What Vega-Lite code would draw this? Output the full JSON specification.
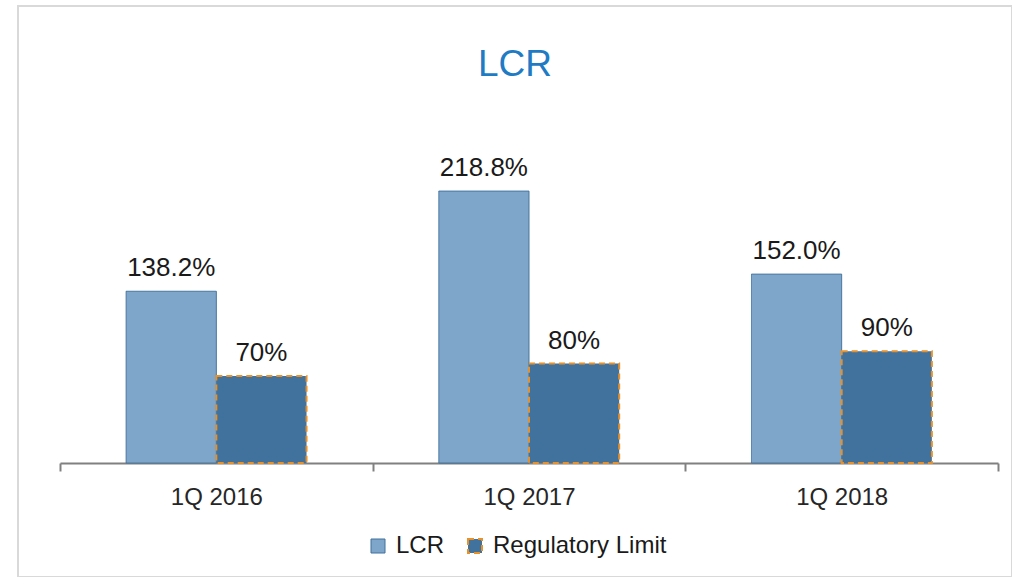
{
  "$schema": "https://vega.github.io/schema/vega-lite/v6.json",
  "width": 994,
  "height": 571,
  "autosize": {"type": "none"},
  "padding": {"left": 18, "top": 6, "right": 0, "bottom": 0},
  "background": "white",
  "config": {"view": {"stroke": "#d9d9d9", "strokeWidth": 2}, "font": "Liberation Sans"},
  "title": {"text": "LCR", "color": "#1F7BC4", "fontSize": 37, "fontWeight": "normal", "anchor": "middle", "offset": -107, "baseline": "alphabetic", "font": "Liberation Sans"},
  "data": {"values": [
    {"quarter": "1Q 2016", "series": "LCR", "value": 138.2, "label": "138.2%"},
    {"quarter": "1Q 2016", "series": "Regulatory Limit", "value": 70, "label": "70%"},
    {"quarter": "1Q 2017", "series": "LCR", "value": 218.8, "label": "218.8%"},
    {"quarter": "1Q 2017", "series": "Regulatory Limit", "value": 80, "label": "80%"},
    {"quarter": "1Q 2018", "series": "LCR", "value": 152.0, "label": "152.0%"},
    {"quarter": "1Q 2018", "series": "Regulatory Limit", "value": 90, "label": "90%"}
  ]},
  "encoding": {
    "x": {"field": "quarter", "type": "nominal", "sort": null,
      "scale": {"range": [42, 980], "paddingInner": 0, "paddingOuter": 0},
      "axis": {"title": null, "orient": "bottom", "offset": -114, "domainColor": "#808080", "domainWidth": 2, "tickColor": "#808080", "tickWidth": 2, "tickSize": 8, "tickBand": "extent", "labelFontSize": 24, "labelColor": "#262626", "labelPadding": 14, "labelAngle": 0, "labelFont": "Liberation Sans"}},
    "xOffset": {"field": "series", "type": "nominal", "sort": ["LCR", "Regulatory Limit"], "scale": {"paddingInner": 0, "paddingOuter": 0.7333}},
    "y": {"field": "value", "type": "quantitative", "scale": {"domain": [-91.7, 367.7], "zero": false, "nice": false}, "axis": null}
  },
  "layer": [
    {
      "mark": {"type": "bar"},
      "encoding": {
        "y2": {"datum": 0},
        "fill": {"field": "series", "type": "nominal", "sort": ["LCR", "Regulatory Limit"], "scale": {"domain": ["LCR", "Regulatory Limit"], "range": ["#7EA6CB", "#41729D"]},
          "legend": {"orient": "none", "legendX": 348, "legendY": 528, "direction": "horizontal", "title": null, "symbolType": "square", "symbolSize": 196, "labelFontSize": 24, "labelColor": "#1a1a1a", "labelLimit": 400, "columnPadding": 18, "labelOffset": 6, "symbolStrokeWidth": 2, "labelFont": "Liberation Sans"}},
        "stroke": {"field": "series", "type": "nominal", "sort": ["LCR", "Regulatory Limit"], "scale": {"domain": ["LCR", "Regulatory Limit"], "range": ["#41719C", "#E8902A"]}},
        "strokeDash": {"field": "series", "type": "nominal", "sort": ["LCR", "Regulatory Limit"], "scale": {"domain": ["LCR", "Regulatory Limit"], "range": [[1, 0], [6, 4]]}},
        "strokeWidth": {"field": "series", "type": "nominal", "scale": {"domain": ["LCR", "Regulatory Limit"], "range": [1, 2]}, "legend": null}
      }
    },
    {
      "mark": {"type": "text", "baseline": "alphabetic", "dy": -15, "fontSize": 26, "color": "#1a1a1a", "font": "Liberation Sans"},
      "encoding": {"text": {"field": "label"}}
    }
  ]
}
